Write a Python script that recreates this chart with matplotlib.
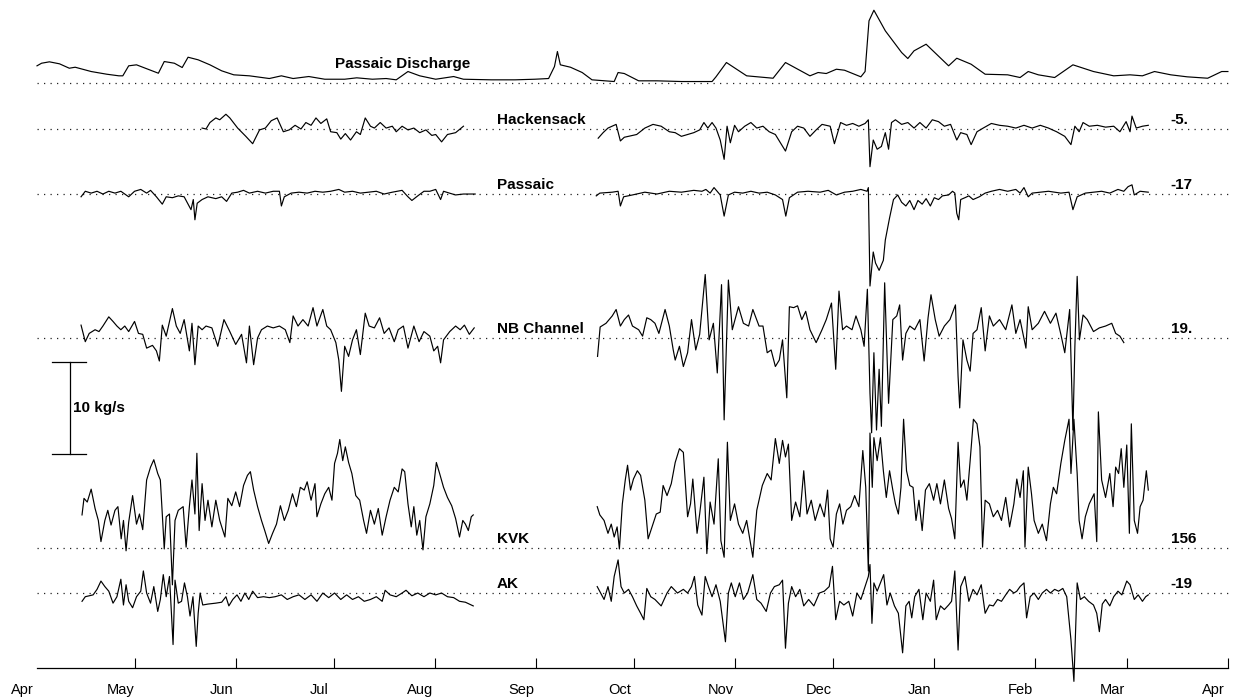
import numpy as np
import matplotlib
matplotlib.use("Agg")
import matplotlib.pyplot as plt

plt.rcParams["font.family"] = ["Liberation Sans", "DejaVu Sans"]

# x = days since 1 April; flux series in kg/s (anomaly about each record's dotted baseline)
month_names = ["Apr", "May", "Jun", "Jul", "Aug", "Sep", "Oct", "Nov", "Dec", "Jan", "Feb", "Mar", "Apr"]
month_start = [0, 30, 61, 91, 122, 153, 183, 214, 244, 275, 306, 334, 365]

# Passaic river discharge (relative units, drawn on the 92-unit = 10 kg/s bar scale)
discharge = np.array([
    (0, 16.7), (1.4, 19.3), (3.8, 20.7), (6.9, 18.7), (9.9, 14.3), (11.7, 15.3), (16.6, 11), (21.4, 8.3),
    (25.1, 6.7), (26.3, 6.7), (28.1, 16.7), (30.5, 17.7), (37.2, 9.3), (39.0, 21), (42.1, 19.3), (44.5, 15),
    (46.3, 25.3), (49.4, 22.7), (53.0, 17.7), (56.6, 11.7), (60.3, 7.7), (65.1, 6.7), (71.2, 4), (74.9, 6.7),
    (78.5, 4), (83.3, 6), (88.2, 3.3), (94.3, 3.3), (98.0, 4.7), (102.8, 3.3), (107.0, 4), (110.1, 2.7),
    (113.7, 11), (117.3, 6.7), (122.2, 3.3), (127.7, 6), (130.7, 3.3), (139.2, 2.7), (146.5, 2.7), (152.6, 3.3),
    (156.8, 4), (158.6, 16), (159.5, 31), (160.4, 17.7), (163.5, 15.3), (167.1, 10), (170.1, 2.7), (176.9, 1),
    (178.1, 10), (180.0, 9), (184.4, 1.7), (190.0, 1.7), (197.5, 1), (206.9, 1), (208.1, 5.7), (211.3, 20),
    (217.5, 6.7), (225.6, 4.3), (229.4, 20), (236.9, 6.7), (239.4, 10), (241.9, 9), (245.0, 13.3), (247.5, 12.3),
    (252.5, 5.7), (253.8, 11), (255.0, 61.7), (256.5, 72.3), (260.0, 51.7), (265.0, 30), (266.9, 24), (268.8, 31.7),
    (272.5, 38.3), (279.4, 16.7), (281.9, 24.3), (286.3, 18.3), (290.6, 8.3), (297.5, 7.7), (301.3, 5), (303.8, 11),
    (306.9, 7.7), (311.9, 5), (317.5, 17.7), (323.8, 11), (330.0, 6.7), (335.0, 7.7), (338.8, 6.7), (342.5, 11),
    (347.5, 7.7), (352.5, 5.7), (358.8, 4.3), (363.1, 11), (365.0, 11)])
DISCHARGE_UNITS_PER_KGS = 9.2

hackensack_1 = np.array([
    (50.6, 0.1), (51.8, 0), (53.0, 0.7), (54.8, 1.2), (56.0, 1.0), (57.9, 1.6), (59.1, 1.2), (61.5, 0.1),
    (64.0, -0.8), (66.1, -1.6), (68.2, -0.1), (70.0, 0.1), (71.8, 0.9), (73.6, 1.2), (75.5, -0.3), (77.3, -0.1),
    (79.1, 0.4), (80.9, 0), (82.4, 0.7), (84.0, 0.4), (85.5, 1.2), (87.0, 0.6), (88.8, 1.1), (90.0, -0.3),
    (91.9, -0.4), (93.1, -1.1), (94.5, -0.5), (96.1, -1.2), (97.9, -0.3), (99.1, -0.6), (100.6, 1.2), (102.2, 0.3),
    (103.4, 0.1), (105.2, 0.7), (107.0, 0.1), (108.9, 0.3), (110.1, -0.3), (111.9, 0.3), (113.7, -0.1), (115.5, 0.1),
    (117.3, -0.4), (119.2, -0.1), (121.0, -0.7), (122.2, -0.6), (124.0, -1.4), (125.8, -0.6), (128.3, -0.4),
    (130.7, 0.3)])
hackensack_2 = np.array([
    (172.0, -1.0), (173.5, -0.4), (175.0, 0.1), (177.5, 0.5), (178.8, -1.3), (180.0, -0.9), (183.8, -0.6),
    (186.3, 0.1), (188.8, 0.5), (191.3, 0.3), (193.8, -0.3), (195.6, -0.4), (197.5, -0.8), (199.4, -0.6),
    (201.3, -0.4), (203.1, -0.1), (204.4, 0.7), (205.6, 0.1), (206.9, 0.7), (208.1, 0.1), (209.4, -1.2),
    (210.6, -3.3), (211.5, 0.3), (212.5, -1.5), (213.8, 0.4), (215.0, -0.3), (216.9, 0.3), (218.8, 0.7),
    (220.6, 0.1), (222.5, 0.3), (224.4, -0.3), (226.3, -0.6), (227.5, -1.3), (229.4, -2.4), (231.3, -0.3),
    (233.1, 0.3), (235.0, 0.1), (236.9, -0.8), (238.8, -0.1), (240.6, 0.5), (243.1, 0.3), (244.4, -1.6),
    (246.3, 0.7), (248.1, 0.4), (250.0, 0.6), (251.9, 0.3), (253.8, 0.6), (254.8, 1.0), (255.3, -4.1),
    (256.3, -1.2), (257.5, -2.2), (258.8, -1.9), (260.0, -0.4), (261.0, -2.2), (261.9, 0.7), (263.1, 1.0),
    (265.0, 0.5), (266.9, 0.7), (268.8, 0.1), (270.6, 0.7), (272.5, 0.1), (274.4, 1.0), (276.3, 0.8),
    (278.1, 0.3), (280.0, 0.5), (281.9, -1.2), (283.1, -0.4), (285.0, -0.6), (286.3, -1.7), (288.1, -0.3),
    (290.0, 0.1), (292.5, 0.6), (295.0, 0.4), (297.5, 0.3), (300.0, 0.1), (302.5, 0.4), (305.0, 0.1),
    (307.5, 0.4), (310.0, 0.1), (312.5, -0.3), (315.0, -0.8), (316.9, -1.7), (318.1, 0.3), (319.4, -0.3),
    (320.6, 0.7), (322.5, 0.3), (325.0, 0.4), (327.5, 0.2), (330.0, 0.3), (331.9, -0.3), (333.8, 0.8),
    (335.0, -0.3), (335.6, 1.4), (336.9, 0.1), (338.8, 0.3), (340.6, 0.4)])

passaic_1 = np.array([
    (13.5, -0.3), (14.8, 0.3), (16.6, 0.1), (18.4, 0.3), (20.2, 0), (22.0, 0.3), (23.9, 0.1), (25.7, 0.3),
    (28.1, -0.3), (29.9, 0.3), (31.8, 0.5), (33.6, 0.1), (34.8, 0.4), (36.6, -0.3), (38.4, -1.1), (39.6, -0.3),
    (41.5, -0.4), (43.3, -0.2), (45.1, -0.3), (46.3, -1.1), (47.2, -1.7), (47.9, -0.6), (48.4, -2.8), (49.1, -1.0),
    (50.6, -0.6), (52.4, -0.3), (54.8, -0.5), (56.6, -0.3), (58.1, -0.8), (59.7, 0.1), (61.5, 0.2), (63.3, 0.4),
    (65.1, 0.1), (67.6, 0.3), (70.0, 0.1), (72.4, 0.3), (74.3, 0.3), (74.9, -1.3), (75.8, -0.3), (77.9, 0.1),
    (80.3, 0.2), (82.8, 0.1), (85.2, 0.3), (87.6, 0.2), (90.0, 0.3), (92.5, 0.5), (94.3, 0.2), (96.7, 0.3),
    (99.1, 0.1), (101.6, 0.2), (104.0, 0.3), (106.4, 0), (108.9, 0.2), (111.9, 0.4), (113.7, -0.3), (114.9, -0.7),
    (116.7, -0.2), (118.6, 0.3), (120.4, 0.3), (122.2, 0.5), (123.7, -0.6), (124.6, 0.3), (126.4, 0.1),
    (128.3, -0.1), (130.7, 0), (134.3, 0)])
passaic_2 = np.array([
    (171.4, -0.2), (172.5, 0.1), (176.3, 0.2), (178.1, 0.3), (178.8, -1.3), (179.8, -0.3), (182.5, -0.1),
    (186.3, 0.2), (190.0, 0.0), (193.8, 0.3), (197.5, 0.2), (201.3, 0.4), (203.8, 0.3), (205.0, 0.5), (206.3, 0.1),
    (207.5, 0.7), (209.4, -0.1), (210.6, -2.4), (211.9, -0.1), (213.8, 0.2), (216.3, 0.1), (218.8, 0.3),
    (221.3, 0.1), (223.8, 0.2), (226.3, -0.1), (228.5, -0.6), (229.5, -2.4), (230.6, -0.4), (233.1, 0.2),
    (236.3, 0.3), (240.0, 0.2), (242.5, 0.4), (245.0, -0.1), (247.5, 0.2), (250.0, 0.3), (252.5, 0.5),
    (254.4, 0.3), (254.8, 0.7), (255.3, -10.0), (256.3, -6.3), (257.0, -7.5), (258.1, -8.3), (259.4, -7.2),
    (260.0, -5.0), (261.3, -2.6), (262.5, -0.6), (263.8, -0.1), (265.0, -0.9), (266.3, -1.3), (267.5, -0.7),
    (268.8, -1.7), (270.0, -0.7), (271.3, -1.1), (272.5, -0.5), (273.8, -1.3), (275.0, -0.4), (276.3, -0.6),
    (277.5, -0.2), (279.4, -0.1), (280.6, 0.3), (281.3, 0.1), (281.9, -2.1), (282.5, -2.8), (283.1, -0.6),
    (284.4, -0.4), (285.6, -0.2), (286.9, -0.6), (288.8, -0.3), (290.6, 0.1), (292.5, 0.3), (295.0, 0.5),
    (297.5, 0.3), (300.0, 0.5), (301.3, 0.1), (302.5, 0.7), (303.8, -0.3), (305.0, 0.1), (307.5, 0.2),
    (310.0, 0.3), (313.8, 0.1), (316.3, 0.2), (317.5, -1.7), (318.8, -0.3), (321.3, 0.1), (323.8, 0.2),
    (326.3, 0.3), (328.8, 0.1), (331.3, 0.5), (333.1, 0.3), (334.4, 0.8), (335.6, 1.0), (336.3, -0.1),
    (338.1, 0.3), (340.6, 0.2)])

nb_channel_1 = np.array([
    (13.5, 1.4), (14.8, -0.4), (16.0, 0.5), (17.8, 0.9), (19.0, 0.7), (20.2, 1.3), (22.0, 2.3), (23.3, 1.8),
    (24.5, 1.3), (25.7, 0.9), (26.9, 1.3), (28.1, 0.7), (29.9, 1.8), (31.1, 0.5), (32.4, 0.4), (33.6, -1.1),
    (35.4, -0.8), (36.6, -1.4), (37.5, -2.5), (38.4, 1.4), (39.6, 0.2), (41.5, 3.2), (42.7, 1.3), (43.9, 0.5),
    (45.1, 2.0), (46.7, -1.4), (47.5, 1.6), (48.4, -2.9), (49.4, 1.3), (50.6, 0.9), (51.8, 1.3), (53.6, 1.1),
    (55.4, -0.9), (57.3, 2.0), (59.1, 0.7), (60.9, -0.7), (62.7, 0.4), (64.2, -2.7), (65.1, 1.3), (66.4, -2.9),
    (67.6, 0), (68.8, 0.9), (70.6, 1.3), (72.4, 1.1), (74.3, 1.3), (76.1, 0.9), (77.5, -0.5), (78.5, 2.4),
    (80.0, 1.3), (81.5, 2.0), (83.1, 1.3), (84.6, 3.3), (85.8, 1.3), (87.6, 3.1), (88.8, 1.3), (90.0, 0.9),
    (91.6, -0.5), (92.5, -2.4), (93.3, -5.8), (94.3, -0.9), (95.5, -2.0), (96.7, -0.2), (97.9, 0.9), (99.1, -1.8),
    (100.6, 2.7), (101.8, 1.3), (103.4, 1.1), (105.0, 2.2), (106.4, 0.5), (107.9, 1.1), (109.5, -0.4),
    (110.7, 0.9), (112.3, 1.3), (113.7, -1.1), (115.5, 1.3), (117.1, -0.4), (118.6, 0.7), (120.4, 0.2),
    (121.6, -1.4), (122.8, -0.9), (123.7, -2.7), (124.6, -0.2), (126.5, 0.7), (128.3, 1.3), (129.7, 0.9),
    (131.0, 1.4), (132.5, 0.4), (134.0, 1.1)])
nb_channel_2 = np.array([
    (171.8, -2.0), (172.6, 1.2), (174.4, 1.6), (176.3, 2.4), (177.5, 3.1), (178.8, 1.3), (180.0, 2.0),
    (181.3, 2.5), (182.5, 1.3), (184.4, 0.9), (185.6, 0.2), (186.9, 2.2), (188.1, 2.0), (189.4, 1.6),
    (190.6, 0.5), (192.5, 3.1), (193.8, 1.3), (195.0, -1.3), (195.6, -2.4), (196.9, -0.9), (198.1, -3.1),
    (199.4, -1.6), (200.6, 2.0), (201.9, -1.3), (203.1, 0.4), (204.8, 6.9), (206.0, -0.2), (207.3, 1.6),
    (208.5, -3.8), (209.8, 5.8), (210.6, -8.9), (211.9, 6.3), (213.1, 0.9), (215.0, 3.4), (216.5, 1.6),
    (218.1, 1.3), (219.4, 3.1), (221.3, 1.3), (222.5, 1.3), (223.8, -1.6), (225.0, -1.3), (226.3, -3.1),
    (227.5, -2.4), (228.5, -0.2), (229.8, -6.5), (230.6, 3.4), (231.9, 3.3), (233.1, 3.5), (234.4, 2.0),
    (235.6, 2.9), (236.9, 0.9), (238.8, -0.5), (240.6, 0.9), (241.9, 2.0), (243.5, 3.8), (244.8, -3.4),
    (245.8, 5.1), (246.9, 0.9), (248.1, 1.3), (249.8, 0.9), (251.0, 2.4), (252.5, 0.9), (253.5, -0.9),
    (254.5, 5.3), (255.3, -6.0), (255.8, -10.3), (256.5, -1.6), (257.3, -10.0), (258.1, -3.4), (258.8, -9.6),
    (259.8, 6.0), (261.0, -7.1), (262.3, 2.0), (263.5, 2.4), (264.4, 3.6), (265.3, -2.4), (266.3, 0.5),
    (267.5, 1.3), (269.0, 0.9), (270.6, 2.0), (271.9, -2.5), (273.1, 2.2), (274.0, 4.7), (275.3, 2.0),
    (276.5, 0.2), (278.1, 1.3), (279.8, 2.0), (281.5, 3.6), (282.3, -4.2), (282.8, -7.6), (283.8, -0.2),
    (285.0, -2.4), (286.0, -3.6), (286.9, 0.5), (288.1, 0.9), (289.4, 3.3), (290.6, -1.4), (291.9, 2.4),
    (293.1, 1.3), (295.0, 2.0), (296.9, 0.9), (298.8, 3.6), (300.0, 0.5), (301.3, 2.0), (303.1, -1.1),
    (303.8, 3.4), (305.0, 0.9), (306.9, 1.6), (308.8, 2.9), (310.6, 1.6), (312.3, 2.7), (313.8, 0.4),
    (315.0, -1.6), (316.5, 3.1), (317.5, -10.0), (318.1, -0.9), (318.8, 6.7), (319.5, -0.2), (320.6, 2.5),
    (321.9, 2.0), (323.8, 0.7), (325.6, 1.1), (327.5, 1.3), (329.4, 1.6), (330.6, 0.5), (331.9, 0.2),
    (333.1, -0.5)])

kvk_1 = np.array([
    (13.8, 3.6), (14.4, 5.4), (15.4, 5.0), (16.6, 6.4), (17.8, 4.3), (18.8, 3.0), (19.6, 0.7), (20.8, 3.0),
    (21.7, 4.1), (22.7, 2.5), (23.9, 4.1), (24.8, 4.5), (25.8, 1.0), (26.5, 3.0), (27.3, -0.3), (28.1, 2.8),
    (29.3, 5.7), (30.5, 2.6), (31.4, 3.7), (32.4, 2.0), (33.6, 7.4), (34.8, 8.8), (35.8, 9.6), (37.0, 8.1),
    (37.8, 7.4), (38.4, 3.7), (39.0, -0.1), (39.6, 3.4), (40.6, 3.7), (41.5, -4.0), (42.3, 3.0), (43.3, 4.1),
    (44.8, 4.5), (45.7, 0.1), (46.7, 4.5), (47.5, 7.4), (48.4, 3.7), (49.0, 10.3), (49.7, 1.9), (50.6, 7.0),
    (51.5, 3.0), (52.4, 5.2), (53.6, 2.3), (54.8, 5.2), (56.0, 3.0), (57.6, 1.2), (58.5, 5.4), (59.7, 4.6),
    (60.9, 6.1), (62.1, 4.5), (63.3, 6.8), (64.5, 7.9), (65.4, 8.3), (66.4, 6.3), (67.6, 4.5), (68.8, 3.0),
    (69.8, 1.9), (71.0, 0.5), (72.2, 1.6), (73.4, 2.6), (74.6, 4.6), (75.8, 3.0), (77.0, 4.1), (78.3, 5.9),
    (79.5, 4.5), (80.7, 6.6), (81.9, 6.3), (82.8, 7.2), (84.0, 5.2), (85.2, 7.0), (85.8, 3.4), (87.0, 4.8),
    (88.2, 5.9), (89.4, 6.6), (90.4, 5.2), (91.2, 9.2), (92.1, 10.3), (92.8, 11.8), (93.7, 9.5), (94.5, 11.0),
    (95.5, 9.3), (96.5, 8.1), (97.7, 5.7), (98.9, 5.2), (100.1, 3.0), (101.0, 1.6), (102.2, 4.1), (103.4, 2.6),
    (104.6, 4.3), (105.8, 1.4), (107.0, 3.4), (108.2, 5.2), (109.5, 6.6), (110.7, 6.1), (111.9, 8.6),
    (112.7, 8.3), (113.7, 4.8), (114.7, 2.3), (115.5, 4.5), (116.4, 1.4), (117.3, 3.0), (118.3, -0.2),
    (119.2, 3.4), (120.4, 4.8), (121.6, 6.8), (122.4, 9.3), (123.4, 8.1), (124.6, 6.6), (125.8, 5.5),
    (127.1, 4.6), (128.3, 3.2), (129.5, 1.2), (130.5, 3.0), (131.3, 2.6), (132.2, 1.9), (133.1, 3.4),
    (133.7, 3.6)])
kvk_2 = np.array([
    (171.7, 4.5), (172.5, 3.6), (173.8, 3.0), (175.0, 1.6), (176.0, 2.6), (176.9, 1.2), (177.8, 2.3),
    (178.5, -0.1), (179.4, 4.8), (180.3, 7.4), (181.0, 9.0), (181.9, 6.3), (182.8, 7.5), (184.0, 8.4),
    (185.0, 7.9), (186.3, 5.2), (187.3, 1.0), (188.5, 2.3), (189.8, 3.7), (191.0, 3.9), (191.9, 6.8),
    (193.1, 5.7), (194.4, 7.0), (195.6, 9.3), (196.9, 10.8), (198.1, 10.4), (199.4, 3.4), (200.3, 4.8),
    (201.0, 7.5), (202.3, 1.6), (203.1, 3.7), (204.4, 7.7), (205.3, -0.6), (206.3, 5.0), (207.5, 2.6),
    (208.8, 9.7), (209.6, 0.8), (210.6, -1.0), (211.6, 11.5), (212.5, 3.0), (213.8, 4.8), (215.0, 2.6),
    (216.3, 1.6), (217.5, 3.0), (219.4, -1.0), (220.6, 4.1), (222.3, 6.8), (223.8, 8.1), (225.0, 7.4),
    (226.3, 11.9), (227.5, 9.2), (228.5, 11.7), (229.4, 9.9), (230.3, 11.3), (231.3, 3.0), (232.5, 5.0),
    (233.8, 3.4), (235.0, 8.4), (236.0, 3.7), (237.3, 5.2), (238.5, 3.0), (240.0, 4.8), (241.3, 3.4),
    (242.3, 6.3), (243.1, 1.0), (244.0, 0.1), (245.0, 3.7), (246.0, 4.8), (247.0, 2.6), (248.1, 4.1),
    (249.4, 4.5), (250.6, 5.7), (251.9, 4.5), (253.1, 10.6), (254.0, 6.6), (254.8, -2.5), (255.3, 12.5),
    (256.0, 6.6), (256.5, 12.0), (257.5, 9.5), (258.5, 12.0), (259.4, 8.4), (260.3, 5.5), (261.3, 8.4),
    (262.3, 6.3), (263.1, 4.8), (264.0, 3.7), (264.8, 6.6), (265.6, 14.0), (266.5, 8.4), (267.5, 6.8),
    (268.5, 6.6), (269.4, 3.0), (270.3, 5.2), (271.3, 1.9), (272.3, 6.3), (273.5, 7.0), (274.8, 5.2),
    (275.8, 7.0), (276.9, 4.8), (278.1, 7.4), (279.4, 4.3), (280.3, 3.2), (281.3, 1.0), (282.3, 11.5),
    (283.1, 6.6), (284.1, 7.4), (285.0, 5.2), (286.0, 9.5), (287.0, 14.0), (288.1, 13.5), (289.0, 11.0),
    (289.8, 0.1), (290.6, 5.2), (291.9, 4.8), (293.1, 3.4), (294.4, 4.1), (295.6, 3.0), (296.9, 5.5),
    (298.1, 2.3), (299.4, 4.8), (300.3, 7.5), (301.3, 5.5), (302.3, 8.4), (302.8, 0.1), (303.8, 8.8),
    (304.8, 5.9), (305.6, 3.0), (306.9, 1.6), (308.1, 2.6), (309.4, 0.8), (310.6, 4.8), (311.5, 6.6),
    (312.5, 5.9), (313.8, 9.2), (315.0, 11.7), (316.3, 14.0), (316.9, 8.1), (317.8, 14.0), (318.8, 8.1),
    (319.4, 3.0), (320.3, 1.0), (321.3, 3.4), (322.5, 4.8), (324.0, 5.9), (324.8, 0.7), (325.3, 14.8),
    (326.3, 7.4), (327.5, 5.5), (328.8, 8.1), (329.8, 4.5), (330.6, 8.8), (331.5, 8.1), (332.3, 10.8),
    (333.1, 6.6), (334.0, 11.2), (334.8, 1.6), (335.4, 13.5), (336.3, 3.0), (337.3, 1.6), (338.1, 4.5),
    (339.0, 5.2), (340.0, 8.4), (340.6, 6.3)])

ak_1 = np.array([
    (13.8, -0.9), (14.8, -0.4), (16.0, -0.3), (17.2, -0.2), (18.4, 0.4), (19.6, 1.3), (20.8, 0.7), (22.0, 0.2),
    (23.3, -1.1), (24.5, -0.4), (25.7, 1.5), (26.5, -1.3), (27.3, 0.9), (28.1, -0.9), (29.3, -1.6), (30.5, -0.4),
    (31.8, 0.2), (32.6, 2.4), (33.6, 0), (34.8, -1.1), (35.8, 0.7), (37.0, -2.0), (37.8, -0.7), (38.7, 2.0),
    (39.6, -0.4), (40.6, 1.8), (41.2, -2.2), (41.7, -5.6), (42.3, 1.4), (43.3, -1.1), (44.3, -0.9), (45.2, 1.1),
    (46.1, -0.4), (46.9, -2.5), (47.8, -0.4), (48.8, -5.8), (49.4, -2.2), (50.0, 0), (50.8, -1.3), (52.4, -1.2),
    (54.8, -1.1), (56.6, -1.0), (57.9, -0.4), (58.8, -1.4), (60.0, -0.7), (61.3, -0.2), (62.5, -0.9), (63.7, 0),
    (64.9, -0.7), (66.1, 0.2), (67.6, -0.5), (69.4, -0.4), (71.2, -0.5), (73.0, -0.4), (74.9, -0.2), (76.7, -0.7),
    (78.5, -0.4), (80.3, -0.2), (82.1, -0.7), (84.0, -0.2), (85.8, -0.9), (87.6, 0), (89.4, -0.5), (91.2, 0),
    (93.1, -0.7), (94.9, -0.2), (96.7, -0.7), (98.5, -0.4), (100.3, -0.9), (102.2, -0.7), (104.0, -0.4),
    (105.8, -0.9), (106.7, 0.3), (108.2, -0.2), (110.1, -0.4), (111.9, 0), (113.1, 0.3), (114.9, -0.3),
    (116.7, 0), (118.6, -0.4), (120.4, 0), (122.2, -0.2), (124.0, 0), (125.8, -0.4), (127.7, -0.5),
    (129.5, -0.9), (131.3, -1.0), (133.7, -1.4)])
ak_2 = np.array([
    (171.7, 0.7), (173.8, -0.7), (175.0, 0.7), (176.0, -0.9), (176.9, 1.8), (178.1, 3.6), (179.0, 0.7),
    (180.0, 0), (181.3, 0.4), (182.5, -0.4), (183.8, -1.4), (185.0, -2.2), (186.0, -2.9), (186.9, 0.5),
    (188.1, -0.4), (189.4, -0.7), (191.3, -1.4), (193.1, 0), (194.4, 0.7), (196.3, 0), (198.1, 0.4), (199.4, 0),
    (200.6, 0.7), (201.5, 1.8), (202.5, -1.3), (203.8, -2.4), (204.8, 1.8), (205.8, 0.7), (206.9, -0.4),
    (208.1, 0.9), (209.4, -0.9), (211.0, -5.3), (211.9, 0), (212.8, 1.1), (214.0, -0.4), (215.3, 1.1),
    (216.5, -0.7), (217.8, 0), (219.4, 2.0), (220.6, -0.7), (221.9, -1.1), (223.5, -2.0), (224.8, 0),
    (226.0, 0.7), (227.5, 0.9), (228.5, 1.4), (229.4, -6.0), (230.3, -1.1), (231.3, 0.7), (232.5, -0.4),
    (233.8, 0.4), (235.0, -1.4), (236.5, -0.7), (238.1, -1.4), (239.8, 0), (241.3, 0.2), (242.8, 0.7),
    (243.8, 2.9), (244.8, -2.9), (246.0, -0.9), (247.3, -1.3), (248.8, -0.9), (250.0, -2.5), (251.3, 0),
    (252.5, -0.7), (253.8, 0.7), (254.8, 1.8), (255.3, 3.1), (255.9, -3.3), (256.5, 1.1), (257.5, 0.2),
    (258.5, 1.1), (259.5, 2.0), (260.5, -1.3), (261.5, 0), (262.8, -1.4), (264.0, -2.2), (265.3, -6.5),
    (266.3, -1.4), (267.3, -0.9), (268.1, -2.7), (269.0, -0.4), (270.3, 0.4), (271.5, -2.9), (272.5, 0),
    (273.8, -0.9), (274.8, 1.4), (275.6, -2.9), (276.9, -1.4), (278.1, -1.8), (279.4, -1.3), (280.3, -0.9),
    (281.3, 2.4), (282.3, -6.2), (283.1, 0.7), (284.4, 1.8), (285.6, -0.9), (286.9, 0.4), (288.1, -0.2),
    (289.4, 0.9), (290.6, -2.2), (291.9, -1.3), (293.1, -1.4), (294.4, -0.7), (295.6, -0.9), (296.9, -0.2),
    (298.1, 0.4), (299.4, 0), (300.3, 0.2), (301.3, 0.7), (302.5, 1.1), (303.3, -2.7), (304.4, -0.4),
    (305.6, 0), (306.9, -0.7), (308.1, 0), (309.4, 0.4), (310.6, 0), (311.9, 0.4), (313.1, 0.2), (314.4, 0.5),
    (315.6, -0.4), (316.9, -5.1), (317.8, -9.6), (318.8, 1.1), (319.8, -0.7), (321.0, -0.4), (322.3, -0.9),
    (323.8, -1.3), (324.8, -2.2), (325.6, -4.2), (326.5, -1.2), (327.5, -0.7), (328.8, -1.4), (330.0, -0.4),
    (331.3, 0.2), (332.5, -0.2), (334.0, 1.3), (335.0, 0.9), (336.3, -0.7), (337.5, -0.2), (338.8, -0.9),
    (339.8, -0.4), (340.6, -0.2)])

# record name, mean flux label (right), baseline height, segments
records = [
    ("Hackensack", "-5.", 58.59, [hackensack_1, hackensack_2]),
    ("Passaic", "-17", 51.52, [passaic_1, passaic_2]),
    ("NB Channel", "19.", 35.87, [nb_channel_1, nb_channel_2]),
    ("KVK", "156", 13.04, [kvk_1, kvk_2]),
    ("AK", "-19", 8.15, [ak_1, ak_2]),
]
discharge_base = 63.64

fig = plt.figure(figsize=(12.39, 6.98), dpi=100)
ax = fig.add_axes([0, 0, 1, 1])
ax.set_xlim(-11.34, 368.4)
ax.set_ylim(-3.26, 72.61)

dots = dict(color="#222222", lw=0.9, ls=(0, (1, 4.2)))
line = dict(color="black", lw=0.85)
bold = dict(fontsize=11, fontweight="bold")

ax.plot([0, 365], [discharge_base, discharge_base], **dots)
ax.plot(discharge[:, 0], discharge_base + discharge[:, 1] / DISCHARGE_UNITS_PER_KGS, **line)
ax.text(91.3, discharge_base + 2.0, "Passaic Discharge", va="center", ha="left", **bold)

for name, mean_lab, base, segs in records:
    ax.plot([0, 365], [base, base], **dots)
    for seg in segs:
        ax.plot(seg[:, 0], base + seg[:, 1], clip_on=False, **line)
    ax.text(141.0, base + 1.0, name, va="center", ha="left", **bold)
    ax.text(347.5, base + 1.0, mean_lab, va="center", ha="left", **bold)

# 10 kg/s scale bar
ax.plot([10.1, 10.1], [23.26, 33.26], color="black", lw=0.9)
ax.plot([4.6, 15.0], [33.26, 33.26], color="black", lw=0.9)
ax.plot([4.6, 15.0], [23.26, 23.26], color="black", lw=0.9)
ax.text(11.0, 28.26, "10 kg/s", va="center", ha="left", **bold)

for s in ["top", "right", "left"]:
    ax.spines[s].set_visible(False)
ax.spines["bottom"].set_position(("data", 0))
ax.spines["bottom"].set_bounds(0, 365)
ax.spines["bottom"].set_linewidth(0.9)
ax.set_yticks([])
ax.set_xticks(month_start[1:])
ax.set_xticklabels([])
ax.tick_params(axis="x", which="major", direction="in", length=7.2, width=0.8)
ax.set_xticks(np.array(month_start) - 4.5, minor=True)
ax.set_xticklabels(month_names, minor=True, fontsize=10.5)
ax.tick_params(axis="x", which="minor", length=0, pad=10.5)

fig.savefig("out.png", dpi=100)
